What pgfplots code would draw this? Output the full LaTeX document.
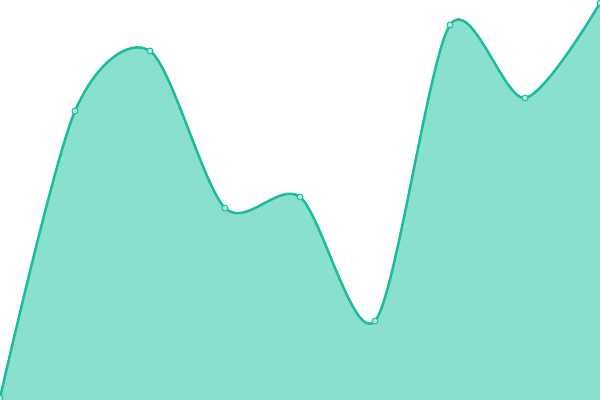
\documentclass[border=0pt]{standalone}
\usepackage{pgfplots}
\pgfplotsset{compat=1.18}
\definecolor{teal1}{RGB}{26,188,156}
\definecolor{tealfill}{RGB}{138,224,207}
\begin{document}
\begin{tikzpicture}
\path[use as bounding box, clip] (0,0) rectangle (600bp,400bp);
\begin{axis}[
  hide axis, scale only axis,
  width=600bp, height=400bp,
  xmin=0, xmax=8, ymin=0, ymax=400,
  clip=false
]
\addplot[draw=none, fill=tealfill, smooth, tension=0.5] coordinates {
  (0,2) (1,289) (2,349) (3,192) (4,203) (5,79) (6,375) (7,302) (8,397)
} \closedcycle;
\addplot[teal1, line width=2.5bp, smooth, tension=0.5,
  mark=*, mark size=3bp, mark options={fill=tealfill!70!white, draw=teal1, line width=0.9bp}] coordinates {
  (0,2) (1,289) (2,349) (3,192) (4,203) (5,79) (6,375) (7,302) (8,397)
};
\end{axis}
\end{tikzpicture}
\end{document}
